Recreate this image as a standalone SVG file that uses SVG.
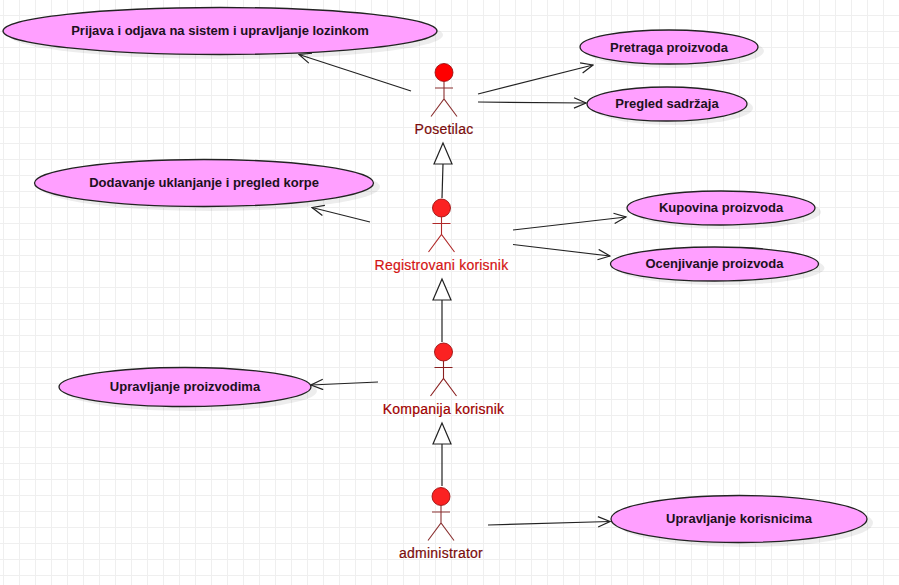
<svg xmlns="http://www.w3.org/2000/svg" width="899" height="585" viewBox="0 0 899 585">
<style>
text{font-family:"Liberation Sans",Arial,sans-serif;font-size:13px;text-anchor:middle}
.uc{fill:#ff9fff;stroke:#222;stroke-width:1.3}
.sh{fill:#000;opacity:.07}
.ul{font-weight:bold;fill:#201020;stroke:none}
.c{fill:none;stroke:#222;stroke-width:1.2}
.g{fill:#fff;stroke:#222;stroke-width:1.2}
.lim{fill:none;stroke:currentColor;stroke-width:1.1}
.head{stroke:#900000;stroke-width:.8}
.al{fill:#7a0c0c;font-size:14px;letter-spacing:.22px;stroke:#7a0c0c;stroke-width:.2}
</style>
<defs>
<pattern id="grid" width="16" height="16" patternUnits="userSpaceOnUse" x="3" y="-1">
<path d="M.5 0V16M0 .5H16" fill="none" stroke="#efefef" stroke-width="1"/>
</pattern>
<marker id="open" viewBox="0 0 14 12" refX="13" refY="6" markerWidth="14" markerHeight="12" markerUnits="userSpaceOnUse" orient="auto"><path d="M1 .8 13 6 1 11.2" fill="none" stroke="#222" stroke-width="1.2"/></marker>
<symbol id="body" overflow="visible"><path class="lim" d="M0 0V17.500M-9 6.500H9M-13 35 0 17.500 13 35"/></symbol>
</defs>
<rect width="899" height="585" fill="#fff"/>
<rect width="899" height="585" fill="url(#grid)"/>
<g id="connectors">
<path class="c" marker-end="url(#open)" d="M411 91 299 54.500"/>
<path class="c" marker-end="url(#open)" d="M478 94 593 65"/>
<path class="c" marker-end="url(#open)" d="M478 102 586 103"/>
<path class="c" marker-end="url(#open)" d="M370 222 312 207.500"/>
<path class="c" marker-end="url(#open)" d="M513 230 626 217"/>
<path class="c" marker-end="url(#open)" d="M513 244.500 610 256"/>
<path class="c" marker-end="url(#open)" d="M378 382 311 385"/>
<path class="c" marker-end="url(#open)" d="M488 525 610 521.500"/>
<path class="c" d="M442 198 443 164"/><path class="g" d="M443 143 434 164H452Z"/>
<path class="c" d="M442 342V300"/><path class="g" d="M442 279 433 300H451Z"/>
<path class="c" d="M442 486V444"/><path class="g" d="M442 423 433 444H451Z"/>
</g>
<g id="uc-prijava"><ellipse class="sh" cx="226" cy="35" rx="217" ry="24"/><ellipse class="uc" cx="220" cy="31" rx="217" ry="23.500"/><text class="ul" x="220" y="35">Prijava i odjava na sistem i upravljanje lozinkom</text></g>
<g id="uc-pretraga"><ellipse class="sh" cx="675" cy="51" rx="89" ry="17"/><ellipse class="uc" cx="669" cy="47" rx="89" ry="17"/><text class="ul" x="669" y="52">Pretraga proizvoda</text></g>
<g id="uc-pregled"><ellipse class="sh" cx="673" cy="108" rx="80" ry="17"/><ellipse class="uc" cx="667" cy="104" rx="80" ry="17"/><text class="ul" x="667" y="108">Pregled sadržaja</text></g>
<g id="uc-korpa"><ellipse class="sh" cx="210" cy="187" rx="170" ry="24"/><ellipse class="uc" cx="204" cy="183" rx="169.500" ry="23.500"/><text class="ul" x="204" y="187">Dodavanje uklanjanje i pregled korpe</text></g>
<g id="uc-kupovina"><ellipse class="sh" cx="727" cy="212" rx="94" ry="17"/><ellipse class="uc" cx="721" cy="208" rx="94" ry="17"/><text class="ul" x="721" y="212">Kupovina proizvoda</text></g>
<g id="uc-ocenjivanje"><ellipse class="sh" cx="720.500" cy="268" rx="104" ry="17"/><ellipse class="uc" cx="714.500" cy="264" rx="104" ry="17"/><text class="ul" x="714.500" y="268">Ocenjivanje proizvoda</text></g>
<g id="uc-proizvodi"><ellipse class="sh" cx="191" cy="391" rx="126" ry="20"/><ellipse class="uc" cx="185" cy="387" rx="126" ry="19.500"/><text class="ul" x="185" y="391">Upravljanje proizvodima</text></g>
<g id="uc-korisnici"><ellipse class="sh" cx="745" cy="523" rx="128" ry="24"/><ellipse class="uc" cx="739" cy="519" rx="128" ry="23.500"/><text class="ul" x="739" y="523">Upravljanje korisnicima</text></g>
<g id="actor-posetilac"><circle class="head" cx="444" cy="72.500" r="9" fill="#f00"/><use href="#body" x="444" y="81.500" color="#8a3030"/><text class="al" x="444" y="134">Posetilac</text></g>
<g id="actor-registrovani"><circle class="head" cx="441.500" cy="208" r="9" fill="#fb2222"/><use href="#body" x="441.500" y="217" color="#b02828"/><text class="al" x="441.500" y="270" style="fill:#d41414;stroke:#d41414">Registrovani korisnik</text></g>
<g id="actor-kompanija"><circle class="head" cx="443.500" cy="352" r="9" fill="#fb2222"/><use href="#body" x="443.500" y="361" color="#8a2020"/><text class="al" x="443.500" y="414" style="fill:#a00000;stroke:#a00000">Kompanija korisnik</text></g>
<g id="actor-administrator"><circle class="head" cx="441" cy="496.500" r="9" fill="#fb2222"/><use href="#body" x="441" y="505.500" color="#8a3030"/><text class="al" x="441" y="558">administrator</text></g>
</svg>
